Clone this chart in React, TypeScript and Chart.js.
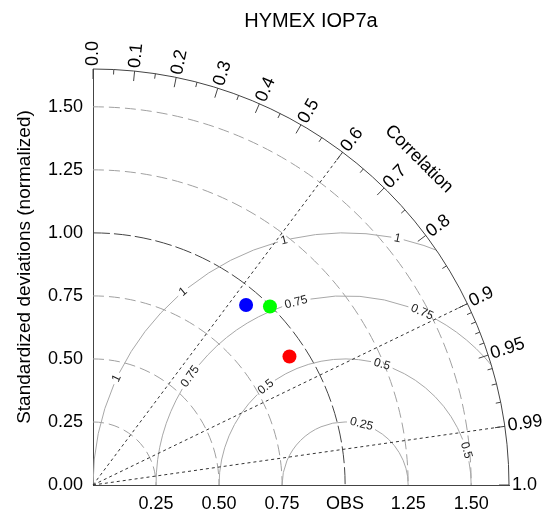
import React, { useEffect, useRef } from "react";
import { Chart, registerables } from "chart.js";

Chart.register(...registerables);

const FONT = '"Liberation Sans", Arial, Helvetica, sans-serif';

const chartTitle = "HYMEX IOP7a";
const yAxisTitle = "Standardized deviations (normalized)";
const corrTitle = "Correlation";

// axes
const axisMax = 1.65;
const yTickValues = [0, 0.25, 0.5, 0.75, 1.0, 1.25, 1.5];
const yTickLabels = ["0.00", "0.25", "0.50", "0.75", "1.00", "1.25", "1.50"];
const xTickValues = [0.25, 0.5, 0.75, 1.0, 1.25, 1.5];
const xTickLabels = ["0.25", "0.50", "0.75", "OBS", "1.25", "1.50"];

// correlation axis
const corrMajor = [0, 0.1, 0.2, 0.3, 0.4, 0.5, 0.6, 0.7, 0.8, 0.9, 0.95, 0.99, 1.0];
const corrMajorLabels = ["0.0", "0.1", "0.2", "0.3", "0.4", "0.5", "0.6", "0.7", "0.8", "0.9", "0.95", "0.99", "1.0"];
const corrMinor = [0.05, 0.15, 0.25, 0.35, 0.45, 0.55, 0.65, 0.75, 0.85, 0.91, 0.92, 0.93, 0.94, 0.96, 0.97, 0.98];
const corrRays = [0.6, 0.9, 0.99];

// standard deviation arcs
const stdArcs = [0.25, 0.5, 0.75, 1.0, 1.25, 1.5];
const refStd = 1.0;

// centred RMS difference circles
const rmsLevels = [0.25, 0.5, 0.75, 1.0];
const rmsLabels = ["0.25", "0.5", "0.75", "1"];
const rmsLabelAngles = [[75], [16, 73, 129], [66, 105, 145], [78, 104, 130, 155]];

// models
const modelNames = ["Run 1", "Run 2", "Run 3"];
const modelStd = [0.937, 0.997, 0.931];
const modelCorr = [0.648, 0.704, 0.837];
const modelColors = ["#0000ff", "#00ff00", "#ff0000"];

export default function App() {
  const ref = useRef<HTMLCanvasElement>(null);

  useEffect(() => {
    const canvas = ref.current!;
    const taylorPlugin = {
      id: "taylor",
      beforeDatasetsDraw(chart: any) {
        const ctx: CanvasRenderingContext2D = chart.ctx;
        const xs = chart.scales.x;
        const ys = chart.scales.y;
        const px = (v: number) => xs.getPixelForValue(v);
        const py = (v: number) => ys.getPixelForValue(v);
        const ox = px(0);
        const oy = py(0);
        const ppu = px(1) - px(0);
        const R = axisMax * ppu;

        ctx.save();
        ctx.lineWidth = 1;

        // std dev arcs
        stdArcs.forEach((r) => {
          ctx.beginPath();
          const isRef = r === refStd;
          ctx.setLineDash(isRef ? [17, 4] : [11, 5]);
          ctx.strokeStyle = isRef ? "#444444" : "#a0a0a0";
          ctx.arc(ox, oy, r * ppu, -Math.PI / 2, 0, false);
          ctx.stroke();
        });
        ctx.setLineDash([]);

        // RMS circles
        ctx.save();
        ctx.beginPath();
        ctx.moveTo(ox, oy);
        ctx.arc(ox, oy, R, -Math.PI / 2, 0, false);
        ctx.closePath();
        ctx.clip();
        ctx.font = `12px ${FONT}`;
        const cx = px(refStd);
        const cy = oy;
        rmsLevels.forEach((d, i) => {
          const rad = d * ppu;
          const label = rmsLabels[i];
          const half = (ctx.measureText(label).width / 2 + 3) / rad;
          const angles = rmsLabelAngles[i].map((a) => (a * Math.PI) / 180).sort((a, b) => a - b);
          const segs: number[][] = [];
          let start = 0;
          angles.forEach((a) => {
            segs.push([start, a - half]);
            start = a + half;
          });
          segs.push([start, Math.PI]);
          ctx.strokeStyle = "#a8a8a8";
          segs.forEach(([a0, a1]) => {
            if (a1 <= a0) return;
            ctx.beginPath();
            ctx.arc(cx, cy, rad, -a1, -a0, false);
            ctx.stroke();
          });
          ctx.fillStyle = "#222222";
          ctx.textAlign = "center";
          ctx.textBaseline = "middle";
          angles.forEach((a) => {
            ctx.save();
            ctx.translate(cx + rad * Math.cos(a), cy - rad * Math.sin(a));
            ctx.rotate(Math.PI / 2 - a);
            ctx.fillText(label, 0, 0);
            ctx.restore();
          });
        });
        ctx.restore();

        // correlation rays
        ctx.setLineDash([3, 3]);
        ctx.strokeStyle = "#333333";
        corrRays.forEach((c) => {
          const t = Math.acos(c);
          ctx.beginPath();
          ctx.moveTo(ox, oy);
          ctx.lineTo(ox + R * Math.cos(t), oy - R * Math.sin(t));
          ctx.stroke();
        });
        ctx.setLineDash([]);

        // outer arc
        ctx.strokeStyle = "#444444";
        ctx.beginPath();
        ctx.arc(ox, oy, R, -Math.PI / 2, 0, false);
        ctx.stroke();

        // ticks
        const tick = (c: number, len: number) => {
          const t = Math.acos(c);
          ctx.beginPath();
          ctx.moveTo(ox + R * Math.cos(t), oy - R * Math.sin(t));
          ctx.lineTo(ox + (R - len) * Math.cos(t), oy - (R - len) * Math.sin(t));
          ctx.stroke();
        };
        corrMajor.forEach((c) => tick(c, 10));
        corrMinor.forEach((c) => tick(c, 5));

        // correlation labels
        ctx.fillStyle = "#000000";
        ctx.font = `18px ${FONT}`;
        ctx.textAlign = "left";
        ctx.textBaseline = "middle";
        corrMajor.forEach((c, i) => {
          const t = Math.acos(c);
          ctx.save();
          ctx.translate(ox + (R + 3) * Math.cos(t), oy - (R + 3) * Math.sin(t));
          ctx.rotate(-t);
          ctx.fillText(corrMajorLabels[i], 0, 0);
          ctx.restore();
        });

        // "Correlation"
        {
          const t = Math.PI / 4;
          ctx.save();
          ctx.translate(ox + (R + 45) * Math.cos(t), oy - (R + 45) * Math.sin(t));
          ctx.rotate(Math.PI / 2 - t);
          ctx.textAlign = "center";
          ctx.fillText(corrTitle, 0, 0);
          ctx.restore();
        }

        // title
        ctx.font = `20px ${FONT}`;
        ctx.textAlign = "center";
        ctx.fillText(chartTitle, 311, 21);

        // y axis title
        ctx.save();
        ctx.translate(25, 267);
        ctx.rotate(-Math.PI / 2);
        ctx.font = `19px ${FONT}`;
        ctx.fillText(yAxisTitle, 0, 0);
        ctx.restore();

        ctx.restore();
      },
    };

    const tickFont = { family: FONT, size: 18 };

    const chart = new Chart(canvas, {
      type: "scatter",
      data: {
        datasets: modelNames.map((n, i) => ({
          label: n,
          data: [
            {
              x: modelStd[i] * modelCorr[i],
              y: modelStd[i] * Math.sqrt(1 - modelCorr[i] * modelCorr[i]),
            },
          ],
          backgroundColor: modelColors[i],
          borderColor: modelColors[i],
          pointRadius: 7,
          pointHoverRadius: 7,
          borderWidth: 0,
        })),
      },
      options: {
        responsive: false,
        animation: false,
        events: [],
        layout: { padding: { top: 69, right: 41, left: 0, bottom: 0 } },
        plugins: {
          legend: { display: false },
          tooltip: { enabled: false },
          title: { display: false },
        },
        scales: {
          x: {
            type: "linear",
            min: 0,
            max: axisMax,
            afterBuildTicks: (s: any) => {
              s.ticks = xTickValues.map((v) => ({ value: v }));
            },
            afterFit: (s: any) => {
              s.height = 30;
            },
            grid: { display: false, drawTicks: false },
            border: { display: true, color: "#444444", width: 1 },
            ticks: {
              font: tickFont,
              color: "#000000",
              padding: 8,
              maxRotation: 0,
              autoSkip: false,
              callback: (v: any) => {
                const i = xTickValues.indexOf(Number(v));
                return i >= 0 ? xTickLabels[i] : "";
              },
            },
          },
          y: {
            type: "linear",
            min: 0,
            max: axisMax,
            afterBuildTicks: (s: any) => {
              s.ticks = yTickValues.map((v) => ({ value: v }));
            },
            afterFit: (s: any) => {
              s.width = 93;
            },
            grid: { display: false, drawTicks: false },
            border: { display: true, color: "#444444", width: 1 },
            ticks: {
              font: tickFont,
              color: "#000000",
              padding: 10,
              autoSkip: false,
              callback: (v: any) => {
                const i = yTickValues.indexOf(Number(v));
                return i >= 0 ? yTickLabels[i] : "";
              },
            },
          },
        },
      },
      plugins: [taylorPlugin],
    } as any);

    return () => chart.destroy();
  }, []);

  return (
    <div style={{ position: "absolute", left: 0, top: 0, width: 550, height: 515, background: "#ffffff" }}>
      <canvas ref={ref} width={550} height={515} />
    </div>
  );
}
